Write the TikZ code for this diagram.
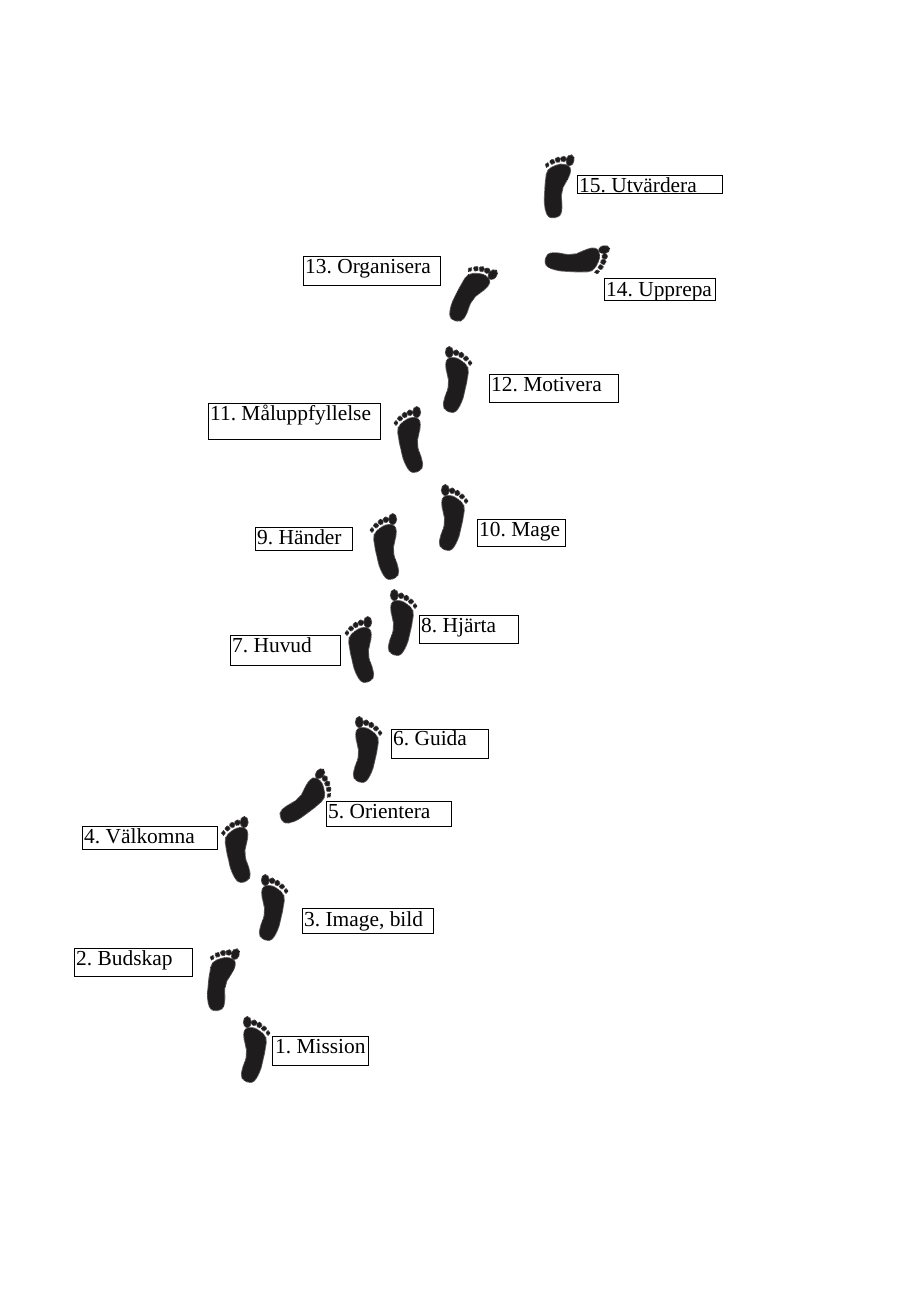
\documentclass[tikz,border=0pt]{standalone}
\usepackage{fontspec}
\setmainfont{Liberation Serif}
\frenchspacing
\definecolor{ink}{HTML}{1E1C1D}
\tikzset{
  footink/.style={fill=ink,draw=ink,line width=1.7pt,dash pattern=on 0.5pt off 0.5pt},
  boxframe/.style={draw=black,line width=1pt,rectangle,inner sep=0pt},
  boxtext/.style={anchor=base west,inner sep=0pt,font=\fontsize{21.4}{21.4}\selectfont,text=black},
  pics/foot/.style={code={
    \path[footink] plot[smooth cycle,tension=0.7] coordinates {(-10,-20) (-3,-22) (4,-19) (10.5,-12) (10,-2) (7.5,10) (4.5,21) (-0.5,30) (-6,32) (-12.5,28) (-12.5,20) (-8.5,8) (-8,0) (-10.5,-11)};
    \path[footink] (-7.7,-27.8) ellipse[x radius=3.6,y radius=5.2];
    \path[footink] (-0.9,-27.2) circle[radius=2.4];
    \path[footink] (4.3,-25) circle[radius=2.2];
    \path[footink] (9,-21.5) circle[radius=2];
    \path[footink] (13,-17) circle[radius=1.7];
  }}
}
\newcommand{\labelbox}[8]{%
  \node[boxframe,minimum width=#4 pt-#2 pt,minimum height=#5 pt-#3 pt] (#1) at ({(#2+#4)/2-0.2},{(#3+#5)/2-0.2}) {};
  \node[boxtext] (#1t) at (#6,#7) {#8};
}
\begin{document}
\begin{tikzpicture}[x=1pt,y=-1pt]
\useasboundingbox[fill=white] (0,0) rectangle (913,1291);
% right feet: big toe on the left
\pic (f1)  at (255,1050) {foot};
\pic[rotate=-19,xscale=-1] (f2) at (219,978) {foot};
\pic (f3)  at (273,908) {foot};
\pic[xscale=-1] (f4) at (236.5,850) {foot};
\pic[rotate=-40] (f5) at (308,800) {foot};
\pic (f6)  at (367,750) {foot};
\pic[xscale=-1] (f7) at (360,650) {foot};
\pic (f8)  at (402,623) {foot};
\pic[xscale=-1] (f9) at (385,547) {foot};
\pic (f10) at (453,518) {foot};
\pic[xscale=-1] (f11) at (409,440) {foot};
\pic (f12) at (457,380) {foot};
\pic[rotate=-40,xscale=-1] (f13) at (469,291) {foot};
\pic[rotate=-80] (f14) at (578,262) {foot};
\pic[rotate=-16,xscale=-1] (f15) at (555,185) {foot};
% labels
\labelbox{b15}{578}{176}{723}{194}{579}{192}{15. Utvärdera}
\labelbox{b14}{605}{279}{716}{301}{606}{296}{14. Upprepa}
\labelbox{b13}{304}{257}{441}{286}{305}{273}{13. Organisera}
\labelbox{b12}{490}{375}{619}{403}{491}{391}{12. Motivera}
\labelbox{b11}{209}{404}{381}{440}{210}{420}{11. Måluppfyllelse}
\labelbox{b10}{478}{520}{566}{547}{479}{536}{10. Mage}
\labelbox{b9}{256}{528}{353}{551}{257}{544}{9. Händer}
\labelbox{b8}{420}{616}{519}{644}{421}{632}{8. Hjärta}
\labelbox{b7}{231}{636}{341}{666}{232}{652}{7. Huvud}
\labelbox{b6}{392}{730}{489}{759}{393}{745}{6. Guida}
\labelbox{b5}{327}{802}{452}{827}{328}{818}{5. Orientera}
\labelbox{b4}{83}{827}{218}{850}{84}{843}{4. Välkomna}
\labelbox{b3}{303}{909}{434}{934}{304}{926}{3. Image, bild}
\labelbox{b2}{75}{949}{193}{977}{76}{965}{2. Budskap}
\labelbox{b1}{273}{1037}{369}{1066}{275}{1053}{1. Mission}
\end{tikzpicture}
\end{document}
